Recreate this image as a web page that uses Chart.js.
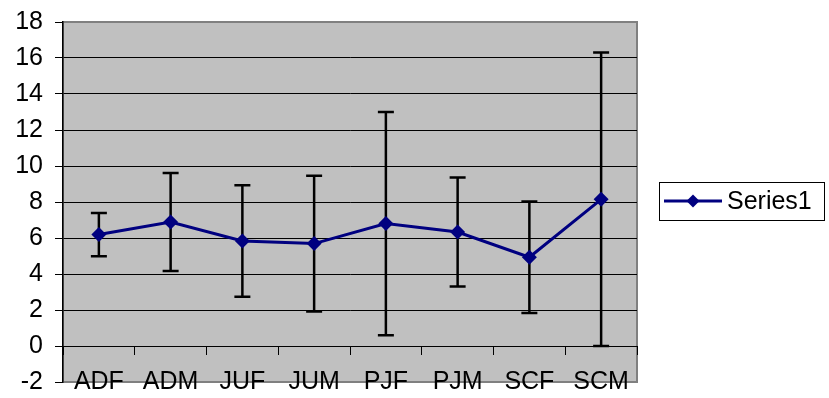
<!DOCTYPE html>
<html>
<head>
<meta charset="utf-8">
<script src="https://cdn.jsdelivr.net/npm/chart.js@4/dist/chart.umd.min.js"></script>
<style>
  html, body { margin: 0; padding: 0; background: #ffffff; }
  #wrap { width: 829px; height: 398px; position: relative; }
</style>
</head>
<body>
<div id="wrap"><canvas id="c" width="829" height="398"></canvas></div>
<script>
const categories = ['ADF', 'ADM', 'JUF', 'JUM', 'PJF', 'PJM', 'SCF', 'SCM'];
const seriesValues = [6.19, 6.89, 5.83, 5.69, 6.80, 6.33, 4.93, 8.15];
const errorAmounts = [1.20, 2.72, 3.10, 3.77, 6.20, 3.03, 3.10, 8.15];
const seriesName = 'Series1';
const yMin = -2, yMax = 18, yStep = 2;

const FONT = "'Liberation Sans', Arial, sans-serif";
const LINE_COLOR = '#000080';
const AREA = { top: 22, bottom: 382, left: 63, right: 637 };
const PADDING = { top: 22, bottom: 16, left: 0, right: 192 };

const plotBg = {
  id: 'plotBg',
  beforeDraw(chart) {
    const { ctx, chartArea: a } = chart;
    ctx.save();
    ctx.fillStyle = '#C0C0C0';
    ctx.fillRect(a.left, a.top, a.right - a.left, a.bottom - a.top);
    ctx.strokeStyle = '#808080';
    ctx.lineWidth = 2;
    ctx.strokeRect(a.left, a.top, a.right - a.left, a.bottom - a.top);
    ctx.restore();
  }
};

const errorBars = {
  id: 'errorBars',
  beforeDatasetsDraw(chart) {
    const { ctx } = chart;
    const x = chart.scales.x, y = chart.scales.y;
    ctx.save();
    ctx.strokeStyle = '#000000';
    ctx.lineWidth = 2.5;
    seriesValues.forEach((v, i) => {
      const px = x.getPixelForValue(i);
      const hi = y.getPixelForValue(v + errorAmounts[i]);
      const lo = y.getPixelForValue(v - errorAmounts[i]);
      ctx.beginPath();
      ctx.moveTo(px, hi); ctx.lineTo(px, lo);
      ctx.moveTo(px - 8, hi); ctx.lineTo(px + 8, hi);
      ctx.moveTo(px - 8, lo); ctx.lineTo(px + 8, lo);
      ctx.stroke();
    });
    ctx.restore();
  }
};

const boxLegend = {
  id: 'boxLegend',
  afterDraw(chart) {
    const { ctx } = chart;
    const ds = chart.data.datasets[0];
    const bx = 659, by = 182, bw = 165, bh = 38;
    const cy = by + bh / 2;
    ctx.save();
    ctx.fillStyle = '#ffffff';
    ctx.fillRect(bx, by, bw, bh);
    ctx.strokeStyle = '#000000';
    ctx.lineWidth = 1;
    ctx.strokeRect(bx + 0.5, by + 0.5, bw, bh);
    ctx.strokeStyle = ds.borderColor;
    ctx.lineWidth = 3;
    ctx.beginPath();
    ctx.moveTo(664, cy); ctx.lineTo(722, cy);
    ctx.stroke();
    ctx.fillStyle = ds.pointBackgroundColor;
    const r = 6.5;
    ctx.beginPath();
    ctx.moveTo(693, cy - r); ctx.lineTo(693 + r, cy); ctx.lineTo(693, cy + r); ctx.lineTo(693 - r, cy);
    ctx.closePath(); ctx.fill();
    ctx.fillStyle = '#000000';
    ctx.font = '25px ' + FONT;
    ctx.textBaseline = 'middle';
    ctx.textAlign = 'left';
    ctx.fillText(ds.label, 727, cy + 1);
    ctx.restore();
  }
};

const chart = new Chart(document.getElementById('c'), {
  type: 'line',
  data: {
    labels: categories,
    datasets: [{
      label: seriesName,
      data: seriesValues,
      borderColor: LINE_COLOR,
      backgroundColor: LINE_COLOR,
      pointBackgroundColor: LINE_COLOR,
      pointBorderColor: LINE_COLOR,
      borderWidth: 3,
      pointStyle: 'rectRot',
      pointRadius: 7.5,
      pointBorderWidth: 0,
      tension: 0,
      fill: false
    }]
  },
  options: {
    responsive: false,
    animation: false,
    devicePixelRatio: 1,
    layout: { padding: PADDING },
    plugins: { legend: { display: false }, tooltip: { enabled: false } },
    scales: {
      x: {
        type: 'category',
        position: { y: 0 },
        offset: true,
        afterFit(scale) { scale.paddingTop = 0; scale.paddingBottom = 0; },
        grid: {
          offset: true,
          drawOnChartArea: false,
          drawTicks: true,
          tickLength: 8,
          color: '#000000',
          lineWidth: 1
        },
        border: { display: true, color: '#000000', width: 1 },
        ticks: {
          color: '#000000',
          font: { family: FONT, size: 25 },
          padding: 13,
          maxRotation: 0,
          autoSkip: false
        }
      },
      y: {
        min: yMin,
        max: yMax,
        afterFit(scale) { scale.width = 63; scale.paddingTop = 0; scale.paddingBottom = 0; },
        grid: {
          color: (c) => (c.tick && (c.tick.value === yMax || c.tick.value === yMin)) ? 'rgba(0,0,0,0)' : '#000000',
          tickColor: '#000000',
          lineWidth: 1,
          tickLength: 8
        },
        border: { display: true, color: '#000000', width: 1.5 },
        ticks: {
          stepSize: yStep,
          color: '#000000',
          font: { family: FONT, size: 25 },
          padding: 12
        }
      }
    }
  },
  plugins: [plotBg, errorBars, boxLegend]
});

// Nudge the layout padding so the plot area lands where the reference has it.
for (let k = 0; k < 5; k++) {
  const a = chart.chartArea;
  const dt = AREA.top - a.top, db = a.bottom - AREA.bottom;
  const dl = AREA.left - a.left, dr = a.right - AREA.right;
  if (Math.abs(dt) < 0.5 && Math.abs(db) < 0.5 && Math.abs(dl) < 0.5 && Math.abs(dr) < 0.5) break;
  PADDING.top = Math.max(0, PADDING.top + dt);
  PADDING.bottom = Math.max(0, PADDING.bottom + db);
  PADDING.left = Math.max(0, PADDING.left + dl);
  PADDING.right = Math.max(0, PADDING.right + dr);
  chart.options.layout.padding = Object.assign({}, PADDING);
  chart.update('none');
}
</script>
</body>
</html>
